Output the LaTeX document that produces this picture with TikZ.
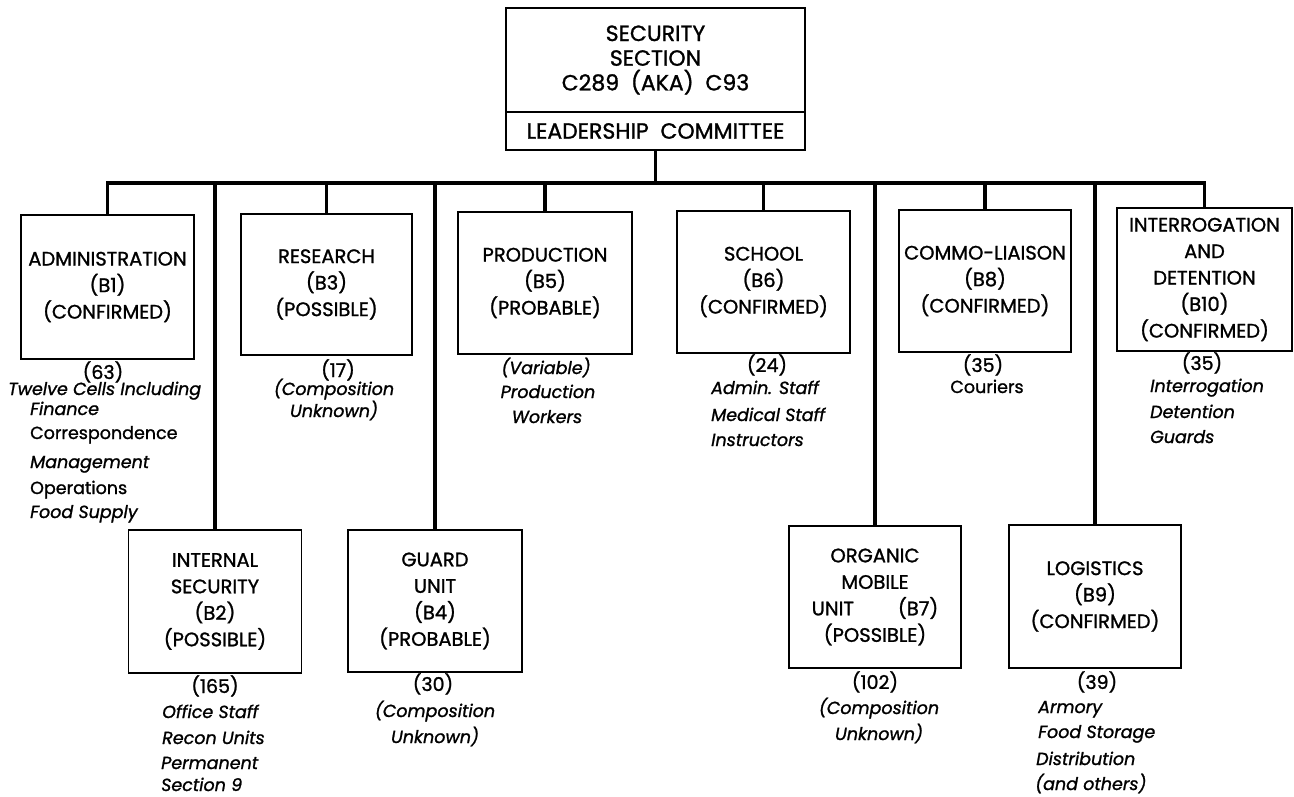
\documentclass[tikz,border=0pt]{standalone}
\usepackage{fontspec}
\setmainfont[FakeBold=1.2]{Poppins}
\begin{document}
\begin{tikzpicture}[x=1pt,y=-1pt,
  unit/.style={draw, line width=1.4pt, inner sep=0pt, align=center,
    font=\fontsize{19.5}{26.5}\selectfont},
  conn/.style={line width=3.8pt},
  cnt/.style={inner sep=0pt, anchor=base, font=\fontsize{19}{22}\selectfont},
  itc/.style={inner sep=0pt, anchor=base, font=\fontsize{17.5}{22}\selectfont\itshape},
  itl/.style={inner sep=0pt, anchor=base west, font=\fontsize{17.5}{22}\selectfont\itshape},
  upl/.style={inner sep=0pt, anchor=base west, font=\fontsize{17.5}{22}\selectfont},
  upc/.style={inner sep=0pt, anchor=base, font=\fontsize{17.5}{22}\selectfont}]
\useasboundingbox[fill=white] (0,0) rectangle (1294,796);

% top box
\node[unit, minimum width=299pt, minimum height=104pt, font=\fontsize{22}{24.7}\selectfont] (sec) at (655.5,60)
  {SECURITY\\SECTION\\C289~~(AKA)~~C93};
\node[unit, minimum width=299pt, minimum height=38pt, font=\fontsize{22}{24.7}\selectfont] (lead) at (655.5,131)
  {LEADERSHIP~~COMMITTEE};
\coordinate (bus) at (655.5,183);

% upper row
\node[unit, minimum width=173pt, minimum height=144pt] (adm) at (107.5,287) {ADMINISTRATION\\(B1)\\(CONFIRMED)};
\node[unit, minimum width=171pt, minimum height=141pt] (res) at (326.5,284.5) {RESEARCH\\(B3)\\(POSSIBLE)};
\node[unit, minimum width=174pt, minimum height=142pt] (prod) at (545,283) {PRODUCTION\\(B5)\\(PROBABLE)};
\node[unit, minimum width=173pt, minimum height=142pt] (sch) at (763.5,282) {SCHOOL\\(B6)\\(CONFIRMED)};
\node[unit, minimum width=172pt, minimum height=142pt] (com) at (985,281) {COMMO-LIAISON\\(B8)\\(CONFIRMED)};
\node[unit, minimum width=175pt, minimum height=143pt] (intr) at (1204.5,279.5) {INTERROGATION\\AND\\DETENTION\\(B10)\\(CONFIRMED)};

% lower row
\node[unit, minimum width=173pt, minimum height=143pt] (ins) at (215,601.5) {INTERNAL\\SECURITY\\(B2)\\(POSSIBLE)};
\node[unit, minimum width=174pt, minimum height=142pt] (grd) at (435,601) {GUARD\\UNIT\\(B4)\\(PROBABLE)};
\node[unit, minimum width=172pt, minimum height=142pt] (org) at (875,597) {ORGANIC\\MOBILE\\UNIT\hspace{44pt}(B7)\\(POSSIBLE)};
\node[unit, minimum width=172pt, minimum height=143pt] (log) at (1095,596.5) {LOGISTICS\\(B9)\\(CONFIRMED)};

% connectors
\draw[conn] (lead.south) -- (lead.south |- bus);
\draw[conn, line join=miter] (adm.north) -- (adm.north |- bus) -- (intr.north |- bus) -- (intr.north);
\foreach \n in {res,prod,sch,com,ins,grd,org,log}
  \draw[conn] (\n.north |- bus) -- (\n.north);

% administration notes
\node[cnt] (admc) at (103,379) {(63)};
\node[itl] (adm1) at (8,395) {Twelve Cells Including};
\node[itl] (adm2) at (30,415) {Finance};
\node[upl] (adm3) at (30,439) {Correspondence};
\node[itl] (adm4) at (30,468) {Management};
\node[upl] (adm5) at (30,494) {Operations};
\node[itl] (adm6) at (30,518) {Food Supply};

% research notes
\node[cnt] (resc) at (338,377) {(17)};
\node[itc] (res1) at (334,395) {(Composition};
\node[itc] (res2) at (334,417) {Unknown)};

% production notes
\node[itc] (prod1) at (546,374) {(Variable)};
\node[itc] (prod2) at (548,398) {Production};
\node[itc] (prod3) at (547,423) {Workers};

% school notes
\node[cnt] (schc) at (767,372) {(24)};
\node[itl] (sch1) at (711,394) {Admin. Staff};
\node[itl] (sch2) at (711,421) {Medical Staff};
\node[itl] (sch3) at (711,446) {Instructors};

% commo notes
\node[cnt] (comc) at (983,372) {(35)};
\node[upc] (com1) at (987,393) {Couriers};

% interrogation notes
\node[cnt] (intrc) at (1202,370) {(35)};
\node[itl] (intr1) at (1150,392) {Interrogation};
\node[itl] (intr2) at (1150,418) {Detention};
\node[itl] (intr3) at (1150,443) {Guards};

% internal security notes
\node[cnt] (insc) at (215,693) {(165)};
\node[itl] (ins1) at (162,718) {Office Staff};
\node[itl] (ins2) at (162,744) {Recon Units};
\node[itl] (ins3) at (161,769) {Permanent};
\node[itl] (ins4) at (161,791) {Section 9};

% guard notes
\node[cnt] (grdc) at (433,691) {(30)};
\node[itc] (grd1) at (435,717) {(Composition};
\node[itc] (grd2) at (435,743) {Unknown)};

% organic notes
\node[cnt] (orgc) at (875,689) {(102)};
\node[itc] (org1) at (879,714) {(Composition};
\node[itc] (org2) at (879,740) {Unknown)};

% logistics notes
\node[cnt] (logc) at (1097,689) {(39)};
\node[itl] (log1) at (1038,713) {Armory};
\node[itl] (log2) at (1038,738) {Food Storage};
\node[itl] (log3) at (1036,765) {Distribution};
\node[itl] (log4) at (1035,790) {(and others)};
\end{tikzpicture}
\end{document}
